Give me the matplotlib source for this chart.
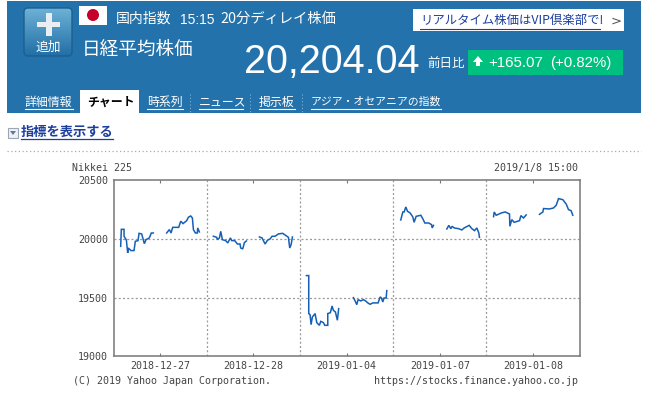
import numpy as np
import matplotlib
matplotlib.use("Agg")
import matplotlib.pyplot as plt
from matplotlib.patches import Rectangle, Circle, FancyBboxPatch, Polygon

# x is position in trading days from the left edge of the chart
d1am_x = [.077,.084,.113,.113,.138,.152,.159,.188,.220,.234,.263,.274,.302,.331,.349,.384,.406,.427]
d1am_y = [19937,20082,20082,20023,19991,19881,19923,19901,19901,19980,19986,20048,20043,19960,19994,20009,20051,20051]
d1pm_x = [.570,.599,.617,.635,.699,.721,.746,.785,.803,.828,.846,.857,.878,.899,.903,.921]
d1pm_y = [20051,20080,20051,20099,20099,20151,20131,20156,20185,20196,20179,20080,20051,20051,20094,20060]
d2am_x = [1.071,1.107,1.114,1.136,1.150,1.168,1.203,1.225,1.254,1.268,1.300,1.329,1.357,1.364,1.386,1.404,1.425]
d2am_y = [20023,20014,19994,20009,20065,19994,19986,19966,20009,19986,19986,19957,19957,19923,19915,19969,19983]
d2pm_x = [1.565,1.593,1.626,1.651,1.679,1.701,1.733,1.769,1.815,1.840,1.876,1.890,1.905,1.919]
d2pm_y = [20017,20009,19957,19989,20000,20023,20023,20043,20048,20034,20014,19923,19952,20017]
d3am_x = [2.069,2.094,2.094,2.108,2.119,2.133,2.162,2.180,2.208,2.223,2.251,2.266,2.298,2.298,2.326,2.344,2.358,2.380,2.401,2.415]
d3am_y = [19688,19688,19364,19355,19270,19335,19364,19287,19264,19298,19287,19264,19264,19364,19372,19429,19392,19378,19307,19406]
d3pm_x = [2.573,2.588,2.609,2.623,2.652,2.681,2.709,2.724,2.752,2.781,2.838,2.860,2.874,2.888,2.902,2.924,2.931]
d3pm_y = [19500,19477,19440,19483,19472,19483,19469,19457,19443,19455,19455,19506,19497,19463,19497,19497,19560]
d4am_x = [3.081,3.103,3.117,3.135,3.153,3.181,3.210,3.224,3.246,3.296,3.317,3.339,3.382,3.411,3.418,3.432]
d4am_y = [20162,20230,20230,20273,20236,20222,20188,20142,20193,20202,20173,20136,20136,20122,20094,20116]
d4pm_x = [3.575,3.596,3.618,3.632,3.654,3.700,3.736,3.761,3.815,3.843,3.872,3.897,3.918,3.925]
d4pm_y = [20085,20116,20088,20108,20094,20088,20077,20094,20116,20088,20071,20094,20051,20014]
d5am_x = [4.076,4.083,4.104,4.161,4.201,4.247,4.251,4.272,4.297,4.355,4.369,4.398,4.426]
d5am_y = [20190,20230,20202,20222,20230,20213,20108,20165,20142,20156,20199,20179,20205]
d5pm_x = [4.569,4.605,4.612,4.676,4.719,4.748,4.773,4.819,4.855,4.880,4.908,4.926]
d5pm_y = [20210,20230,20259,20256,20264,20287,20344,20335,20298,20250,20241,20202]

sessions = [(d1am_x, d1am_y), (d1pm_x, d1pm_y), (d2am_x, d2am_y), (d2pm_x, d2pm_y),
            (d3am_x, d3am_y), (d3pm_x, d3pm_y), (d4am_x, d4am_y), (d4pm_x, d4pm_y),
            (d5am_x, d5am_y), (d5pm_x, d5pm_y)]

day_labels = ["2018-12-27", "2018-12-28", "2019-01-04", "2019-01-07", "2019-01-08"]
y_ticks = [19000, 19500, 20000, 20500]

BLUE = "#2372ab"
LINK = "#1c3f9e"
JP = ["Noto Sans CJK JP", "DejaVu Sans"]
MONO = "DejaVu Sans Mono"
GREY = "#444444"

W, H = 649, 393
fig = plt.figure(figsize=(W / 100, H / 100), dpi=100)

# page layer in pixel coordinates
bg = fig.add_axes([0, 0, 1, 1], zorder=0)
bg.axis("off")

bg.add_patch(Rectangle((7, 1), 634, 112, fc=BLUE, ec="none"))

# add button
grad = np.linspace(0, 1, 50).reshape(-1, 1)
im = bg.imshow(grad, extent=(23, 73, 57, 7), aspect="auto", cmap=matplotlib.colors.LinearSegmentedColormap.from_list("b", ["#6fb2d6", "#1f6ea6"]), zorder=1)
box = FancyBboxPatch((24, 8), 48, 48, boxstyle="round,pad=0,rounding_size=4", fc="none", ec="#1d5f8f", lw=1, zorder=2)
bg.add_patch(box)
im.set_clip_path(box)
bg.add_patch(Rectangle((37, 22), 23, 5, fc="#e8eef2", ec="none", zorder=3))
bg.add_patch(Rectangle((45.5, 13), 6, 23, fc="#e8eef2", ec="none", zorder=3))
bg.text(48, 47, "追加", color="white", fontsize=9.2, family=JP, ha="center", va="center", zorder=3)

# flag
bg.add_patch(Rectangle((79, 6), 28, 19, fc="white", ec="none"))
bg.add_patch(Circle((93, 15), 6, fc="#c4002b", ec="none"))

bg.text(116, 19, "国内指数", color="white", fontsize=10, family=JP, va="center")
bg.text(180, 20, "15:15", color="white", fontsize=10, family="Liberation Sans", va="center")
bg.text(220, 19, "20分ディレイ株価", color="white", fontsize=10.3, family=JP, va="center")
bg.text(82, 50, "日経平均株価", color="white", fontsize=13.4, family=JP, va="center")
bg.text(244, 62.5, "20,204.04", color="white", fontsize=28.5, family="Liberation Sans", va="center")
bg.text(427, 63, "前日比", color="white", fontsize=9, family=JP, va="center")

# realtime link
bg.add_patch(Rectangle((413, 9), 211, 22, fc="white", ec="none"))
bg.text(420, 20.5, "リアルタイム株価はVIP倶楽部で!", color=LINK, fontsize=8.9, family=JP, va="center")
bg.plot([420, 600], [28.5, 28.5], color=LINK, lw=0.8)
bg.text(616, 21, ">", color="#555555", fontsize=9.5, family="DejaVu Sans", ha="center", va="center")

# change box
bg.add_patch(Rectangle((468, 50), 155, 25, fc="#00c07f", ec="none"))
bg.add_patch(Polygon([(478, 56), (473, 62), (476, 62), (476, 66), (480, 66), (480, 62), (483, 62)], fc="white", ec="none"))
bg.text(488, 63, "+165.07", color="white", fontsize=10.8, family="Liberation Sans", va="center")
bg.text(550, 63, "(+0.82%)", color="white", fontsize=10.8, family="Liberation Sans", va="center")

# tabs
bg.add_patch(Rectangle((80, 90), 59, 23, fc="white", ec="none"))
tabs = [(25, 73, "詳細情報", 8.6), (147, 183, "時系列", 8.6), (199, 243, "ニュース", 8.6), (259, 295, "掲示板", 8.6), (311, 441, "アジア・オセアニアの指数", 7.8)]
for x0, x1, label, size in tabs:
    bg.text(x0, 102, label, color="white", fontsize=size, family=JP, va="center")
    bg.plot([x0, x1], [108.5, 108.5], color="white", lw=0.8)
bg.text(87, 102, "チャート", color="black", fontsize=8.6, family=JP, weight="bold", va="center")
for x in [190, 250, 302]:
    bg.plot([x, x], [94, 113], color="#7fb0d0", lw=0.8, ls=(0, (1, 2)))

# show indicators
bg.add_patch(Rectangle((8, 128), 10, 10, fc="#eef2f6", ec="#9aa5b5", lw=0.8))
bg.add_patch(Polygon([(10, 131), (16, 131), (13, 135)], fc="#68788c", ec="none"))
bg.text(21, 132, "指標を表示する", color=LINK, fontsize=9.5, family=JP, weight="bold", va="center")
bg.plot([21, 113], [138.5, 138.5], color=LINK, lw=0.9)
bg.plot([7, 641], [151, 151], color="#aaaaaa", lw=0.9, ls=(0, (1, 2)))

# chart texts
bg.text(72, 168, "Nikkei 225", color=GREY, fontsize=7.2, family=MONO, va="center")
bg.text(578, 168, "2019/1/8 15:00", color=GREY, fontsize=7.2, family=MONO, ha="right", va="center")
bg.text(73, 380.5, "(C) 2019 Yahoo Japan Corporation.", color=GREY, fontsize=7.2, family=MONO, va="center")
bg.text(578, 380.5, "https://stocks.finance.yahoo.co.jp", color=GREY, fontsize=7.2, family=MONO, ha="right", va="center")

bg.set_xlim(0, W)
bg.set_ylim(H, 0)

# chart
ax = fig.add_axes([113.5 / W, (H - 356.3) / H, 466.2 / W, 176 / H], zorder=1)
ax.patch.set_alpha(0)
for xs, ys in sessions:
    ax.plot(xs, ys, color="#1560b5", lw=1.1, solid_joinstyle="miter")

ax.set_xlim(0, 5)
ax.set_ylim(19000, 20500)
ax.set_yticks(y_ticks)
ax.set_xticks(np.arange(5) + 0.5)
ax.set_xticklabels(day_labels, family=MONO, fontsize=7.2, color=GREY)
ax.set_yticklabels([str(v) for v in y_ticks], family=MONO, fontsize=7.2, color=GREY)
ax.tick_params(axis="y", length=0, pad=4)
ax.tick_params(axis="x", direction="in", top=True, length=2.2, width=0.8, color="#777777", pad=3.5)

for x in range(1, 5):
    ax.axvline(x, color="#999999", lw=0.9, ls=(0, (1.6, 1.8)), zorder=0)
for y in [19500, 20000]:
    ax.axhline(y, color="#999999", lw=0.9, ls=(0, (1.6, 1.8)), zorder=0)
for s in ax.spines.values():
    s.set_color("#777777")
    s.set_linewidth(1.1)

fig.savefig("out.png", dpi=100)
